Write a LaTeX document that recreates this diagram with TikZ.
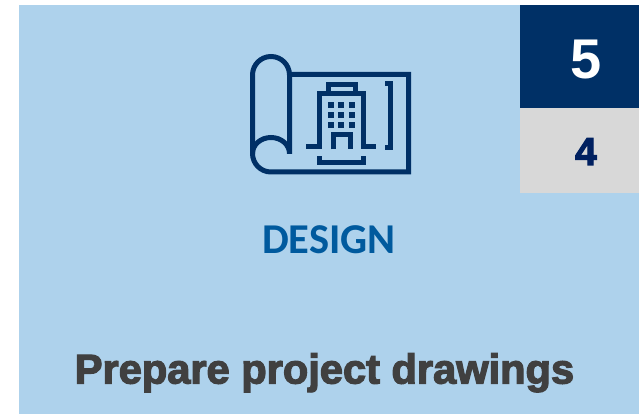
\documentclass[tikz,border=0pt]{standalone}
\usepackage{fontspec}
\setmainfont{Liberation Sans}
\newfontfamily\carlitofont{Carlito}
\newfontfamily\heavyfont[FakeBold=3]{Liberation Sans Bold}
\definecolor{panelblue}{HTML}{AED2EC}
\definecolor{navybox}{HTML}{003066}
\definecolor{greybox}{HTML}{D8D8D8}
\definecolor{numnavy}{HTML}{002060}
\definecolor{titleblue}{HTML}{005A9E}
\definecolor{textgrey}{HTML}{404040}
\tikzset{
  iconline/.style={draw=navybox,line width=5pt,line join=miter,line cap=butt},
  win/.style={fill=navybox,draw=none},
}
\begin{document}
\begin{tikzpicture}[x=1pt,y=-1pt]
\useasboundingbox (0,0) rectangle (639,414);
\fill[white] (0,0) rectangle (639,414);
\fill[panelblue] (19,5) rectangle (639,414);
\fill[navybox] (520,5) rectangle (639,108);
\fill[greybox] (520,108) rectangle (639,193);
% scroll
\draw[iconline] (289.5,154) -- (289.5,75) arc[start angle=0,end angle=-180,x radius=18.5,y radius=18.5] -- (252.5,153.5) arc[start angle=180,end angle=90,x radius=18.5,y radius=18.5] -- (408.5,172) -- (408.5,74.5) -- (289.5,74.5);
\draw[iconline] (252.5,153.5) arc[start angle=180,end angle=360,x radius=18.5,y radius=16];
% building
\draw[iconline] (306,147) -- (319.5,147) -- (319.5,94) -- (363.5,94) -- (363.5,147) -- (376,147);
\draw[iconline] (328,94) -- (328,85) -- (355,85) -- (355,94);
\draw[iconline] (333,149.5) -- (333,134.7) -- (350,134.7) -- (350,149.5);
\draw[iconline] (385,84) -- (390.5,84) -- (390.5,147.5) -- (385,147.5);
\draw[iconline] (319.7,156.5) -- (319.7,162.7) -- (363.3,162.7) -- (363.3,156.5);
\foreach \cx in {328,338.3,349}{\foreach \cy in {102,112.3,122.3}{
  \fill[win] (\cx,\cy) rectangle ++(6,6);
}}
\node[text=white,font=\bfseries\fontsize{56}{56}\selectfont,inner sep=0pt] (five) at (586,59.5) {5};
\node[text=numnavy,font=\heavyfont\fontsize{39}{39}\selectfont,inner sep=0pt] (four) at (586,151.5) {4};
\node[text=titleblue,font=\carlitofont\bfseries\fontsize{42.5}{42.5}\selectfont,inner sep=0pt] (title) at (329,240) {DESIGN};
\node[text=textgrey,font=\heavyfont\fontsize{41.6}{41.6}\selectfont,inner sep=0pt,anchor=base] (caption) at (324.5,383.5) {Prepare project drawings};
\end{tikzpicture}
\end{document}
